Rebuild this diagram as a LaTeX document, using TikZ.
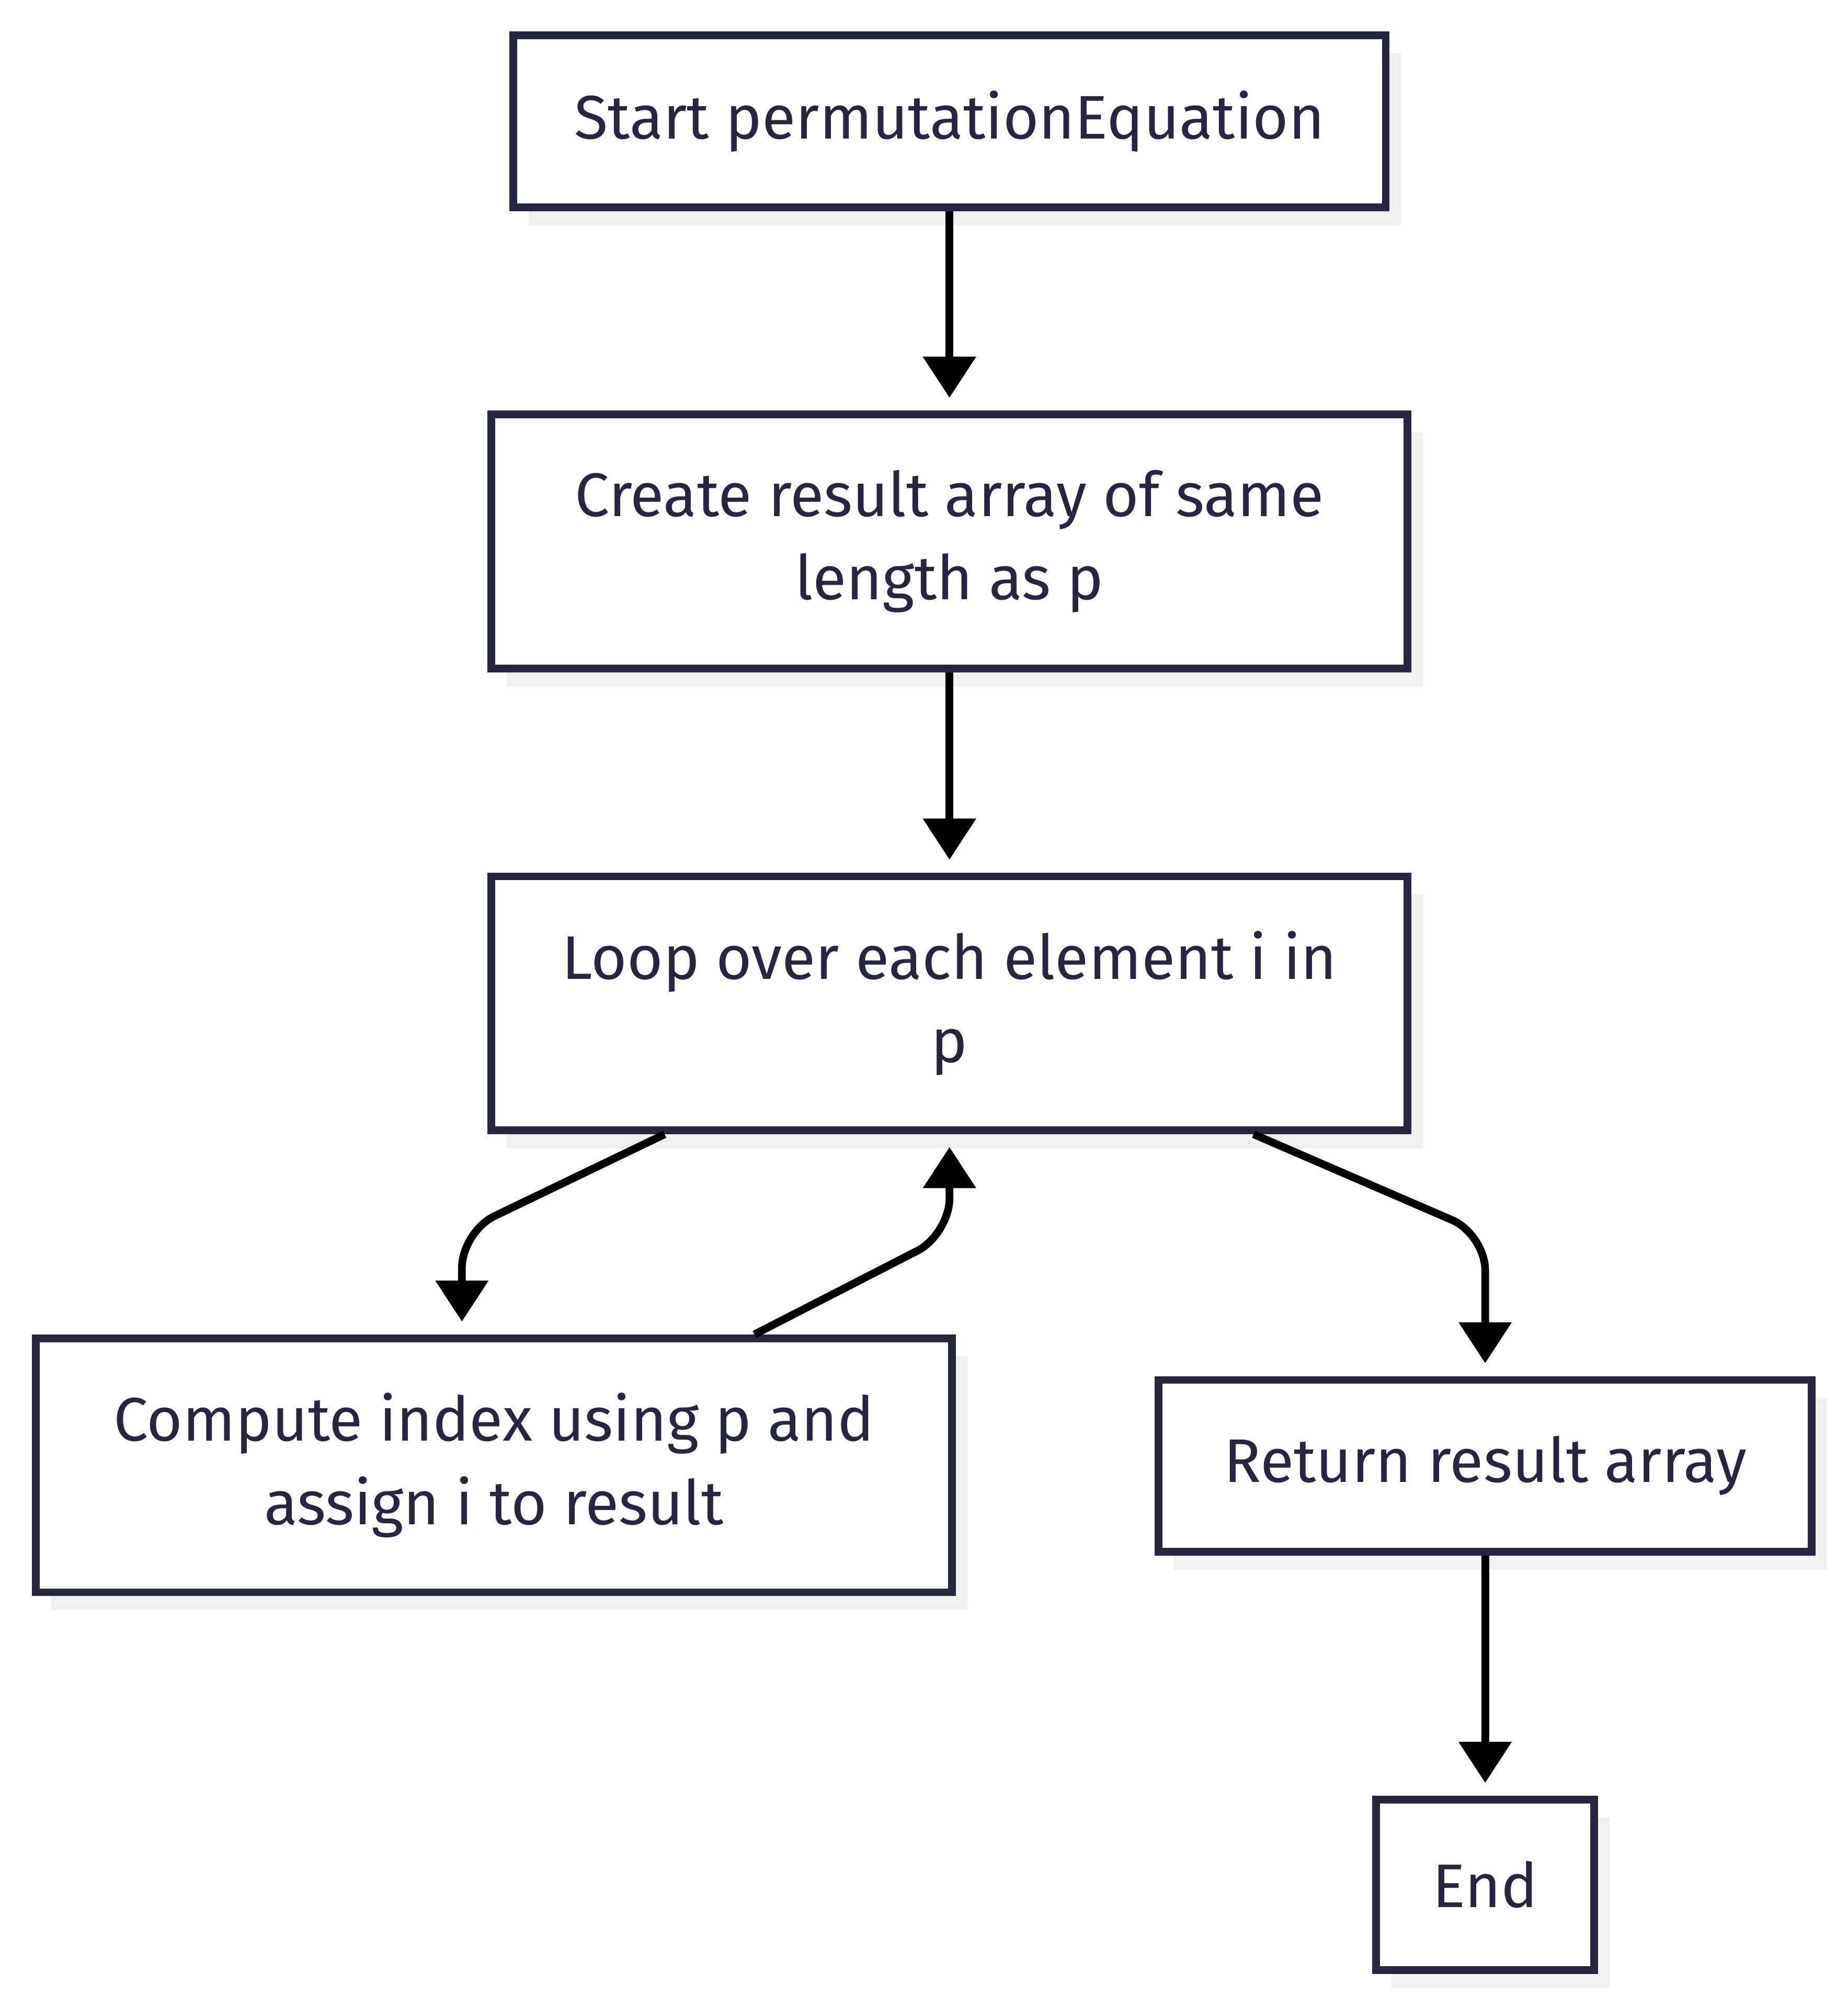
\documentclass[tikz,border=0pt]{standalone}
\usepackage{fontspec}
\setmainfont{Fira Sans}
\usetikzlibrary{arrows.meta}
\usetikzlibrary{shadows}
\definecolor{navy}{RGB}{38,38,64}
\definecolor{ombre}{RGB}{240,240,240}

\begin{document}
\begin{tikzpicture}[x=0.5pt, y=-0.5pt, >={Triangle[length=16pt, width=20pt]}, line width=3pt] % display px
  \tikzstyle{etape}=[rectangle, draw=navy, fill=white, text=navy, line width=3pt, align=center, font=\fontsize{24}{32.5}\selectfont, general shadow={fill=ombre, shadow xshift=6pt, shadow yshift=-7pt}]
  \tikzstyle{fleche}=[->, draw=black, line width=3pt, shorten >=5pt, rounded corners=14pt]

  \useasboundingbox (0,0) rectangle (1440,1565);

	\node[etape, minimum width=340pt, minimum height=67pt] (Start) at (740,94.5) {Start permutationEquation};
	\node[etape, minimum width=357pt, minimum height=99pt]  (Create) at (740,422) {Create result array of same\\length as p};
	\node[etape, minimum width=357pt, minimum height=99pt]  (Loop) at (740,782) {Loop over each element i in\\p};
	\node[etape, minimum width=357pt, minimum height=99pt]  (Compute) at (385,1142) {Compute index using p and\\assign i to result};
	\node[etape, minimum width=254.5pt, minimum height=67pt] (Ret) at (1157.5,1142.5) {Return result array};
	\node[etape, minimum width=85pt, minimum height=66.5pt]  (End) at (1157.5,1469) {End};

	\coordinate (C1) at (360,960);
	\coordinate (C2) at (740,962);
	\coordinate (C3) at (1157.5,962);

	\path[fleche]
		(Start) edge (Create)
		(Create) edge (Loop)
		(Ret) edge (End)
		;
	\draw[fleche] ([xshift=-111pt]Loop.south) -- (C1) -- (C1 |- Compute.north);
	\draw[fleche] ([xshift=101.5pt]Compute.north) -- (C2) -- (Loop.south);
	\draw[fleche] ([xshift=118.5pt]Loop.south) -- (C3) -- (Ret.north);

\end{tikzpicture}
\end{document}
